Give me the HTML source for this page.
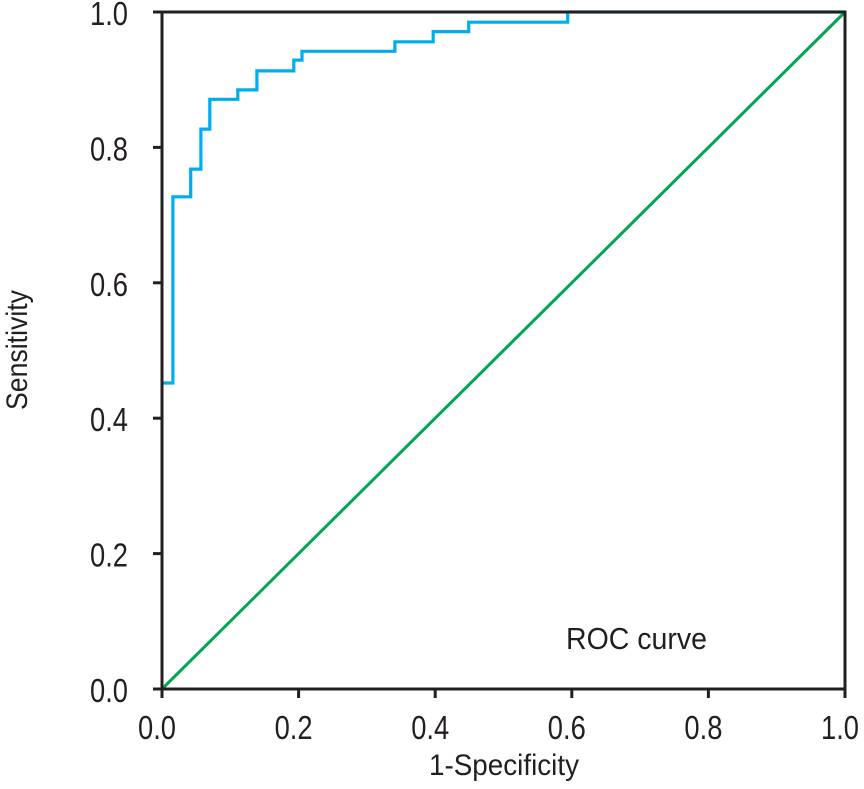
<!DOCTYPE html>
<html><head><meta charset="utf-8"><style>
html,body{margin:0;padding:0;background:#fff;}
svg{display:block;font-family:"Liberation Sans",sans-serif;}
</style></head><body>
<svg id="chart" width="864" height="789" viewBox="0 0 864 789" xmlns="http://www.w3.org/2000/svg">
<text x="566" y="649" font-size="31" fill="#231f20" textLength="141" lengthAdjust="spacingAndGlyphs">ROC curve</text>
<text x="429" y="775" font-size="30" fill="#231f20" textLength="150" lengthAdjust="spacingAndGlyphs">1-Specificity</text>
<text transform="translate(27,410) rotate(-90)" font-size="30" fill="#231f20" textLength="120" lengthAdjust="spacingAndGlyphs">Sensitivity</text>
</svg>
<script>
const fprValues = [0, 0.016, 0.016, 0.042, 0.042, 0.057, 0.057, 0.070, 0.070, 0.111, 0.111, 0.139, 0.139, 0.193, 0.193, 0.205, 0.205, 0.341, 0.341, 0.397, 0.397, 0.449, 0.449, 0.594, 0.594, 1.0];
const tprValues = [0.452, 0.452, 0.727, 0.727, 0.768, 0.768, 0.827, 0.827, 0.871, 0.871, 0.885, 0.885, 0.913, 0.913, 0.929, 0.929, 0.942, 0.942, 0.956, 0.956, 0.971, 0.971, 0.985, 0.985, 1.0, 1.0];
const refLine = [0, 1];
const tickValues = [0, 0.2, 0.4, 0.6, 0.8, 1.0];
const tickLabels = ["0.0", "0.2", "0.4", "0.6", "0.8", "1.0"];

const L=162, R=845, T=12, B=689;
const xs = v => L + v*(R-L);
const ys = v => B - v*(B-T);
const NS="http://www.w3.org/2000/svg";
const svg=document.getElementById('chart');
function mk(tag, attrs){const e=document.createElementNS(NS,tag);for(const k in attrs)e.setAttribute(k,attrs[k]);svg.appendChild(e);return e;}

const diag=mk('line',{x1:xs(refLine[0]),y1:ys(refLine[0]),x2:xs(refLine[1]),y2:ys(refLine[1]),stroke:'#00a651','stroke-width':3});



let d='';
fprValues.forEach((f,i)=>{d+=(i?'L':'M')+xs(f).toFixed(1)+' '+ys(tprValues[i]).toFixed(1)+' ';});
const roc=mk('path',{d:d,fill:'none',stroke:'#00aeef','stroke-width':3.2,'stroke-linejoin':'miter'});



const frame=mk('rect',{x:L,y:T,width:R-L,height:B-T,fill:'none',stroke:'#231f20','stroke-width':3});



tickValues.forEach((v,i)=>{
  const yt=mk('line',{x1:L-9,x2:L,y1:ys(v),y2:ys(v),stroke:'#231f20','stroke-width':3});
  
  
  const yl=mk('text',{x:L-72,y:ys(v)+13,'font-size':33,fill:'#231f20',textLength:38,lengthAdjust:'spacingAndGlyphs'});
  yl.textContent=tickLabels[i];
  
  
  const xt=mk('line',{x1:xs(v),x2:xs(v),y1:B,y2:B+9,stroke:'#231f20','stroke-width':3});
  
  
  const xl=mk('text',{x:xs(v)-24,y:B+50,'font-size':33,fill:'#231f20',textLength:38,lengthAdjust:'spacingAndGlyphs'});
  xl.textContent=tickLabels[i];
  
  
});
</script>
</body></html>
